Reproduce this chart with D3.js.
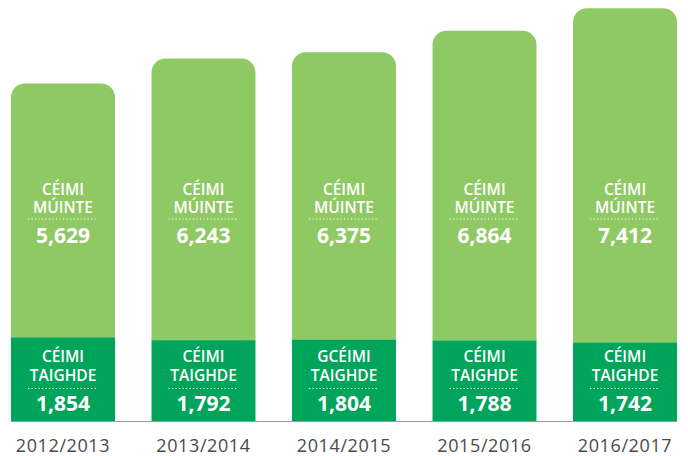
<!DOCTYPE html>
<html><head><meta charset="utf-8">
<script src="https://cdn.jsdelivr.net/npm/d3@7"></script>
<style>body{margin:0;background:#fff}svg{display:block}</style>
</head><body>
<svg id="c" width="688" height="456"></svg>
<script>
const years = ["2012/2013","2013/2014","2014/2015","2015/2016","2016/2017"];
const taught = [5629, 6243, 6375, 6864, 7412];
const research = [1854, 1792, 1804, 1788, 1742];
const taughtLabel = ["CÉIMI","CÉIMI","CÉIMI","CÉIMI","CÉIMI"];
const taughtLabel2 = "MÚINTE";
const researchLabel = ["CÉIMI","CÉIMI","GCÉIMI","CÉIMI","CÉIMI"];
const researchLabel2 = "TAIGHDE";

const svg = d3.select("#c");
const x = d3.scaleBand().domain(years).range([11, 677]).paddingInner(0.26).paddingOuter(0);
const y = d3.scaleLinear().domain([0, 10000]).range([421, -30]);
const fmt = d3.format(",");
const light = "#8FC964", dark = "#00A45A";
const r = 14;
const bw = x.bandwidth();
const font = "'Open Sans', sans-serif";

years.forEach((yr, i) => {
  const x0 = x(yr), x1 = x0 + bw;
  const yb = y(research[i]);
  const yt = y(research[i] + taught[i]);
  const p = d3.path();
  p.moveTo(x0, yb);
  p.lineTo(x0, yt + r);
  p.arcTo(x0, yt, x0 + r, yt, r);
  p.lineTo(x1 - r, yt);
  p.arcTo(x1, yt, x1, yt + r, r);
  p.lineTo(x1, yb);
  p.closePath();
  svg.append("path").attr("d", p.toString()).attr("fill", light);
  svg.append("rect").attr("x", x0).attr("y", yb).attr("width", bw).attr("height", y(0) - yb).attr("fill", dark);

  const cx = x0 + bw / 2;
  const g = svg.append("g").attr("fill", "#fff").attr("text-anchor", "middle").style("font-family", font);
  g.append("text").attr("x", cx).attr("y", 194.5).attr("font-size", 15.5).attr("font-weight", 600).text(taughtLabel[i]);
  g.append("text").attr("x", cx).attr("y", 212.5).attr("font-size", 15.5).attr("font-weight", 600).text(taughtLabel2);
  g.append("line").attr("x1", cx - 35).attr("x2", cx + 35).attr("y1", 219).attr("y2", 219)
    .attr("stroke", "#fff").attr("stroke-width", 1.2).attr("stroke-dasharray", "1.2,2.3");
  g.append("text").attr("x", cx).attr("y", 242.5).attr("font-size", 21).attr("font-weight", 700).text(fmt(taught[i]));
  g.append("text").attr("x", cx).attr("y", 362).attr("font-size", 15.5).attr("font-weight", 600).text(researchLabel[i]);
  g.append("text").attr("x", cx).attr("y", 380.5).attr("font-size", 15.5).attr("font-weight", 600).text(researchLabel2);
  g.append("line").attr("x1", cx - 35).attr("x2", cx + 35).attr("y1", 388.5).attr("y2", 388.5)
    .attr("stroke", "#fff").attr("stroke-width", 1.2).attr("stroke-dasharray", "1.2,2.3");
  g.append("text").attr("x", cx).attr("y", 411).attr("font-size", 21).attr("font-weight", 700).text(fmt(research[i]));
});

svg.append("line").attr("x1", 11).attr("x2", 677).attr("y1", 421.5).attr("y2", 421.5)
  .attr("stroke", "#9a9a9a").attr("stroke-width", 1);

const xAxis = d3.axisBottom(x).tickSize(0).tickPadding(0);
const ax = svg.append("g").attr("transform", "translate(0,440)").call(xAxis);
ax.select(".domain").remove();
ax.selectAll("text").attr("fill", "#4a4a4a").style("font-family", font).attr("font-size", 18)
  .style("letter-spacing", "0.6px").attr("dy", "0.32em").attr("y", 6);
</script>
</body></html>
